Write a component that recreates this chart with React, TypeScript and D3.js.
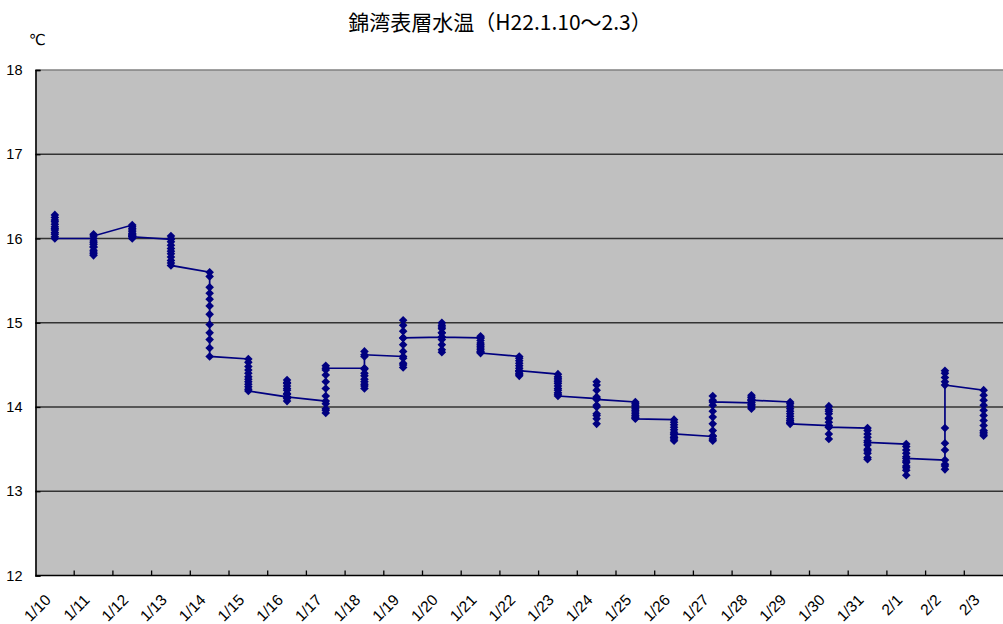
import * as React from "react";
import * as d3 from "d3";

// observation days (x categories)
const days = [
    "1/10", "1/11", "1/12", "1/13", "1/14", "1/15", "1/16", "1/17", "1/18", "1/19",
    "1/20", "1/21", "1/22", "1/23", "1/24", "1/25", "1/26", "1/27", "1/28", "1/29",
    "1/30", "1/31", "2/1", "2/2", "2/3",
];

// surface water temperature readings per day, in time order (℃)
const jan10 = [16.28, 16.25, 16.22, 16.2, 16.17, 16.14, 16.12, 16.1, 16.07, 16.05, 16.02, 16.0];
const jan11 = [16.0, 15.97, 15.93, 15.9, 15.86, 15.82, 15.8, 15.84, 15.9, 15.95, 16.05, 16.03];
const jan12 = [16.16, 16.14, 16.12, 16.1, 16.08, 16.05, 16.03, 16.0, 16.02, 16.06, 16.04, 16.02];
const jan13 = [15.99, 16.03, 16.0, 15.96, 15.92, 15.88, 15.85, 15.82, 15.78, 15.74, 15.71, 15.68];
const jan14 = [15.6, 15.55, 15.42, 15.35, 15.28, 15.2, 15.1, 14.98, 14.88, 14.8, 14.7, 14.6];
const jan15 = [14.57, 14.53, 14.48, 14.44, 14.4, 14.36, 14.33, 14.3, 14.27, 14.24, 14.21, 14.19];
const jan16 = [14.12, 14.16, 14.2, 14.25, 14.29, 14.32, 14.28, 14.22, 14.15, 14.1, 14.07, 14.12];
const jan17 = [14.07, 13.98, 13.93, 13.96, 14.04, 14.13, 14.22, 14.3, 14.38, 14.44, 14.49, 14.46];
const jan18 = [14.46, 14.4, 14.33, 14.27, 14.22, 14.25, 14.3, 14.37, 14.45, 14.6, 14.66, 14.62];
const jan19 = [14.6, 14.52, 14.47, 14.5, 14.58, 14.66, 14.74, 14.82, 14.9, 14.97, 15.03, 14.82];
const jan20 = [14.83, 14.88, 14.93, 14.97, 15.0, 14.95, 14.88, 14.8, 14.74, 14.68, 14.65, 14.83];
const jan21 = [14.82, 14.84, 14.82, 14.79, 14.76, 14.74, 14.72, 14.7, 14.68, 14.66, 14.65, 14.64];
const jan22 = [14.6, 14.58, 14.55, 14.52, 14.49, 14.46, 14.43, 14.4, 14.37, 14.39, 14.42, 14.43];
const jan23 = [14.39, 14.36, 14.34, 14.32, 14.3, 14.28, 14.25, 14.22, 14.2, 14.17, 14.15, 14.13];
const jan24 = [14.1, 14.0, 13.92, 13.86, 13.8, 13.9, 14.02, 14.12, 14.2, 14.26, 14.3, 14.09];
const jan25 = [14.06, 14.04, 14.02, 14.0, 13.98, 13.96, 13.94, 13.92, 13.9, 13.88, 13.87, 13.86];
const jan26 = [13.85, 13.82, 13.79, 13.76, 13.73, 13.7, 13.67, 13.64, 13.62, 13.6, 13.64, 13.68];
const jan27 = [13.65, 13.6, 13.62, 13.66, 13.72, 13.8, 13.88, 13.95, 14.02, 14.08, 14.13, 14.06];
const jan28 = [14.05, 14.08, 14.11, 14.14, 14.12, 14.09, 14.06, 14.03, 14.0, 13.98, 14.02, 14.08];
const jan29 = [14.06, 14.04, 14.01, 13.98, 13.95, 13.92, 13.89, 13.86, 13.84, 13.82, 13.81, 13.8];
const jan30 = [13.78, 13.82, 13.87, 13.92, 13.97, 14.01, 13.95, 13.86, 13.76, 13.68, 13.62, 13.76];
const jan31 = [13.75, 13.72, 13.68, 13.64, 13.6, 13.55, 13.5, 13.45, 13.4, 13.38, 13.48, 13.58];
const feb01 = [13.56, 13.53, 13.49, 13.45, 13.41, 13.36, 13.3, 13.25, 13.19, 13.28, 13.34, 13.39];
const feb02 = [13.37, 13.3, 13.26, 13.32, 13.49, 13.57, 13.75, 14.35, 14.43, 14.4, 14.3, 14.26];
const feb03 = [14.2, 14.14, 14.08, 14.02, 13.96, 13.9, 13.84, 13.78, 13.72, 13.68, 13.66, 13.7];

const readings = [
    jan10, jan11, jan12, jan13, jan14, jan15, jan16, jan17, jan18, jan19,
    jan20, jan21, jan22, jan23, jan24, jan25, jan26, jan27, jan28, jan29,
    jan30, jan31, feb01, feb02, feb03,
];

const yTicks = [12, 13, 14, 15, 16, 17, 18];
const title = "錦湾表層水温（H22.1.10～2.3）";

export default function App() {
    const ref = React.useRef<SVGSVGElement>(null);

    React.useEffect(() => {
        const svgWidth = 1003;
        const svgHeight = 624;
        const margin = { top: 70, right: 0, bottom: 48.5, left: 35.5 };
        const font = "Liberation Sans, Arial, sans-serif";
        const svg = d3.select(ref.current);
        svg.selectAll("*").remove();

        const x = d3.scaleBand()
            .domain(days)
            .range([margin.left, svgWidth - margin.right]);
        const y = d3.scaleLinear()
            .domain([12, 18])
            .range([svgHeight - margin.bottom, margin.top]);

        const left = margin.left;
        const right = svgWidth - margin.right;

        // plot area
        svg.append("rect")
            .attr("x", left)
            .attr("y", y(18))
            .attr("width", right - left)
            .attr("height", y(12) - y(18))
            .attr("fill", "#c0c0c0");

        // gridlines
        svg.append("g")
            .selectAll("line")
            .data(yTicks.filter(t => t > 12 && t < 18))
            .enter()
            .append("line")
            .attr("x1", left)
            .attr("x2", right)
            .attr("y1", d => y(d))
            .attr("y2", d => y(d))
            .attr("stroke", "#333")
            .attr("stroke-width", 1.3);

        // top border
        svg.append("line")
            .attr("x1", left).attr("x2", right)
            .attr("y1", y(18)).attr("y2", y(18))
            .attr("stroke", "#808080")
            .attr("stroke-width", 1.3);

        // y axis
        const yAxis = svg.append("g")
            .attr("transform", `translate(${left}, 0)`)
            .call(d3.axisLeft(y).tickValues(yTicks).tickSize(-5).tickPadding(13).tickFormat(d3.format("d")));
        yAxis.select(".domain").attr("stroke", "#000").attr("stroke-width", 1.6);
        yAxis.selectAll(".tick line").attr("stroke", "#000").attr("stroke-width", 1.3);
        yAxis.selectAll("text")
            .attr("font-family", font)
            .attr("font-size", 14.5)
            .attr("fill", "#000");

        // x axis: ticks on category boundaries, pointing inward
        const bounds = days.slice(1).map(d => x(d) as number);
        svg.append("g")
            .selectAll("line")
            .data(bounds)
            .enter()
            .append("line")
            .attr("x1", d => d)
            .attr("x2", d => d)
            .attr("y1", y(12))
            .attr("y2", y(12) - 5)
            .attr("stroke", "#000")
            .attr("stroke-width", 1.3);
        svg.append("line")
            .attr("x1", left).attr("x2", right)
            .attr("y1", y(12)).attr("y2", y(12))
            .attr("stroke", "#000")
            .attr("stroke-width", 1.6);

        svg.append("g")
            .selectAll("text")
            .data(days)
            .enter()
            .append("text")
            .text(d => d)
            .attr("transform", d => `translate(${(x(d) as number) + x.bandwidth() / 2 - 3}, 601) rotate(-45)`)
            .attr("text-anchor", "end")
            .attr("font-family", font)
            .attr("font-size", 15.5)
            .attr("fill", "#000");

        // series
        const cx = (i: number) => (x(days[i]) as number) + x.bandwidth() / 2;
        const points: [number, number][] = [];
        readings.forEach((vals, i) => vals.forEach(v => points.push([cx(i), y(v)])));

        svg.append("path")
            .attr("d", d3.line()(points))
            .attr("fill", "none")
            .attr("stroke", "#000080")
            .attr("stroke-width", 1.7);

        const r = 4.3;
        svg.append("g")
            .selectAll("path")
            .data(points)
            .enter()
            .append("path")
            .attr("d", `M0,${-r}L${r},0L0,${r}L${-r},0Z`)
            .attr("transform", d => `translate(${d[0]}, ${d[1]})`)
            .attr("fill", "#000080");

        // unit and title
        svg.append("text")
            .attr("x", 29)
            .attr("y", 45)
            .text("℃")
            .attr("font-family", "DejaVu Sans, sans-serif")
            .attr("font-size", 15)
            .attr("fill", "#000");

        svg.append("text")
            .attr("x", 500)
            .attr("y", 30)
            .attr("text-anchor", "middle")
            .text(title)
            .attr("font-family", "Noto Sans CJK JP, sans-serif")
            .attr("font-size", 21)
            .attr("fill", "#000");
    }, []);

    return (
        <svg
            ref={ref}
            width={1003}
            height={624}
            style={{ position: "absolute", left: 0, top: 0, background: "#fff" }}
        />
    );
}
